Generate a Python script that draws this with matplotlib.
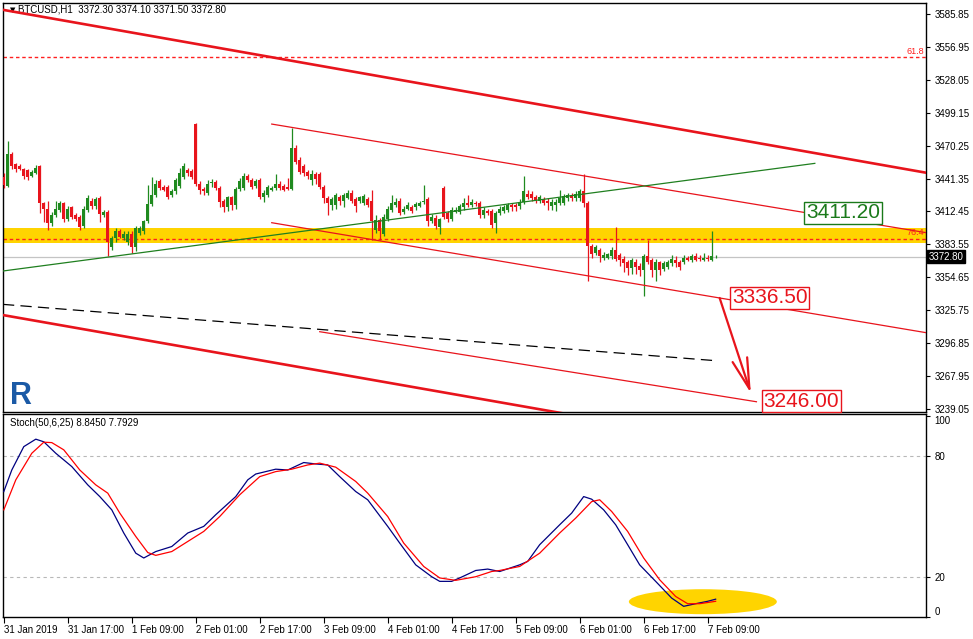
import numpy as np
import matplotlib
matplotlib.use("Agg")
import matplotlib.pyplot as plt
import matplotlib.transforms as mtransforms
from matplotlib.patches import Ellipse

plt.rcParams['font.family'] = ['Liberation Sans', 'DejaVu Sans']

# ------------------------------------------------------------
# BTCUSD H1 candles, 31 Jan 01:00 .. 7 Feb 11:00
# ------------------------------------------------------------
opens = [3443, 3435, 3463, 3454, 3452, 3450, 3449, 3444, 3446, 3452,
         3420, 3415, 3402, 3409, 3414, 3420, 3406, 3416, 3409, 3408,
         3400, 3414, 3422, 3417, 3424, 3409, 3412, 3381, 3389, 3395,
         3389, 3386, 3393, 3381, 3394, 3395, 3404, 3419, 3427, 3439,
         3434, 3434, 3427, 3430, 3435, 3443, 3449, 3448, 3489, 3437,
         3432, 3429, 3437.5, 3438, 3433, 3422, 3416, 3425, 3418, 3432,
         3433, 3444, 3440, 3435, 3440, 3425, 3427, 3431, 3433, 3437,
         3435, 3434, 3432, 3468, 3458, 3452, 3447, 3440, 3445, 3445,
         3434, 3424, 3418, 3418, 3425, 3422, 3424, 3429, 3423, 3422,
         3420, 3423, 3422, 3396, 3405, 3393, 3406, 3414, 3418, 3422,
         3412, 3415, 3416, 3416, 3417, 3421, 3423, 3404, 3407, 3399,
         3433, 3411, 3406, 3412, 3412, 3416, 3420, 3418, 3420, 3420,
         3409, 3413, 3413, 3402, 3411, 3413, 3414, 3418, 3418, 3417,
         3421, 3428, 3428, 3425, 3422, 3423, 3422, 3417, 3418, 3420,
         3420, 3424, 3427, 3424, 3424, 3430, 3420, 3382, 3376, 3379,
         3372, 3372, 3373, 3379, 3374, 3371, 3368, 3363, 3368, 3365,
         3361, 3373, 3370, 3361, 3368, 3362, 3364, 3367, 3370, 3368,
         3368, 3372, 3370, 3373, 3372, 3370, 3372, 3370, 3372.3]
highs = [3446, 3474, 3465, 3455, 3454, 3451, 3450, 3449, 3453, 3453,
         3421, 3422, 3412, 3422, 3422, 3421, 3417, 3417, 3411, 3409,
         3417, 3427, 3424, 3425, 3426, 3414, 3414, 3391, 3398, 3397,
         3395, 3395, 3395, 3400, 3400, 3405, 3436, 3443, 3440, 3441,
         3436, 3436, 3432, 3442, 3451, 3455, 3451, 3450, 3490, 3439,
         3434, 3440, 3441, 3440, 3435, 3423, 3426, 3426, 3434, 3442,
         3446, 3445, 3442, 3441, 3442, 3431, 3436, 3435, 3445, 3439,
         3437, 3442, 3486, 3471, 3460, 3454, 3449, 3449, 3447, 3447,
         3436, 3426, 3425, 3429, 3427, 3429, 3431, 3431, 3425, 3426,
         3428, 3425, 3431, 3409, 3407, 3410, 3417, 3427, 3424, 3424,
         3417, 3421, 3418, 3421, 3422, 3436, 3425, 3410, 3409, 3407,
         3435, 3413, 3416, 3416, 3419, 3424, 3427, 3423, 3422, 3422,
         3416, 3415, 3415, 3413, 3417, 3418, 3420, 3420, 3420, 3423,
         3444, 3431, 3430, 3427, 3427, 3425, 3424, 3423, 3423, 3431,
         3428, 3429, 3429, 3430, 3432, 3445, 3422, 3384, 3383, 3380,
         3377, 3376, 3381, 3399, 3376, 3373, 3370, 3372, 3371, 3367,
         3375, 3387, 3372, 3371, 3369, 3369, 3370, 3374, 3373, 3370,
         3374, 3373, 3375, 3376, 3374, 3376, 3374, 3395, 3374.1]
lows = [3433, 3434, 3450, 3447, 3449, 3441, 3440, 3443, 3445, 3411,
        3403, 3396, 3400, 3408, 3412, 3403, 3404, 3406, 3404, 3396,
        3398, 3412, 3415, 3415, 3403, 3408, 3373, 3379, 3386, 3389,
        3387, 3383, 3376, 3378, 3392, 3393, 3402, 3417, 3425, 3431,
        3430, 3423, 3425, 3428, 3433, 3441, 3444, 3441, 3435, 3428,
        3427, 3427, 3434, 3431, 3416, 3412, 3413, 3414, 3415, 3430,
        3431, 3438, 3432, 3433, 3423, 3421, 3425, 3430, 3431, 3431,
        3430, 3431, 3431, 3454, 3445, 3444, 3441, 3436, 3437, 3432,
        3420, 3409, 3414, 3415, 3418, 3416, 3423, 3420, 3412, 3420,
        3418, 3416, 3387, 3394, 3387, 3391, 3404, 3412, 3416, 3409,
        3410, 3414, 3411, 3414, 3416, 3419, 3400, 3402, 3397, 3393,
        3406, 3403, 3404, 3411, 3410, 3414, 3416, 3416, 3417, 3407,
        3407, 3409, 3398, 3394, 3409, 3411, 3412, 3413, 3413, 3415,
        3419, 3423, 3422, 3420, 3420, 3418, 3414, 3414, 3413, 3418,
        3418, 3422, 3422, 3422, 3422, 3416, 3351, 3372, 3374, 3368,
        3370, 3371, 3371, 3369, 3365, 3359, 3357, 3358, 3358, 3356,
        3338, 3366, 3355, 3351, 3357, 3360, 3362, 3365, 3364, 3361,
        3366, 3369, 3368, 3369, 3369, 3369, 3369, 3369, 3371.5]
closes = [3436, 3463, 3452, 3450, 3450, 3444, 3443, 3447, 3451, 3420,
          3415, 3402, 3409, 3415, 3420, 3406, 3415, 3408, 3406, 3399,
          3415, 3424, 3417, 3423, 3410, 3412, 3386, 3389, 3395, 3390,
          3393, 3393, 3381, 3398, 3398, 3404, 3419, 3427, 3437, 3433,
          3431, 3425, 3430, 3440, 3446, 3452, 3446, 3443, 3437, 3431,
          3430, 3437, 3437.7, 3433, 3421, 3416, 3425, 3418, 3432, 3439,
          3444, 3440, 3434, 3439, 3425, 3429, 3434, 3433, 3437, 3433,
          3431, 3432, 3468, 3456, 3447, 3446, 3444, 3445, 3441, 3434,
          3424, 3420, 3423, 3427, 3422, 3427, 3429, 3422, 3417, 3425,
          3426, 3418, 3404, 3405, 3395, 3408, 3415, 3420, 3421, 3411,
          3415, 3418, 3413, 3419, 3420, 3422, 3404, 3408, 3400, 3406,
          3408, 3406, 3414, 3414, 3417, 3420, 3418, 3421, 3419, 3409,
          3414, 3411, 3401, 3411, 3415, 3416, 3418, 3416, 3416, 3421,
          3430, 3425, 3424, 3422, 3425, 3420, 3420, 3421, 3421, 3424,
          3426, 3427, 3424, 3428, 3430, 3420, 3382, 3375, 3381, 3373,
          3374, 3375, 3379, 3371, 3370, 3367, 3363, 3370, 3364, 3361,
          3373, 3368, 3361, 3368, 3361, 3367, 3368, 3371, 3367, 3364,
          3372, 3370, 3373, 3370, 3370.5, 3372, 3370.5, 3373, 3372.8]

# Stochastic(50,6,25): sampled points (bar index, value)
stoch_k_bar = [0, 2, 5, 8, 10, 13, 17, 21, 24, 27, 30, 33, 35, 38, 42, 46, 50, 53,
               58, 61, 63, 68, 71, 75, 78, 81, 84, 88, 91, 96, 99, 103, 107, 109,
               112, 114, 118, 121, 124, 129, 131, 134, 139, 142, 145, 147, 150,
               153, 156, 159, 163, 167, 170, 173, 176, 178]
stoch_k = [62.3, 73, 84.6, 88.3, 87, 81.3, 74.7, 65.6, 59.8, 53.2, 41.7, 31.7, 29.3,
           32.5, 35, 41.7, 45, 50.8, 59.8, 68.1, 71, 73.4, 73, 76.7, 76, 75.5, 69.7,
           62.3, 58.2, 45, 36.7, 25.9, 20, 17.7, 17.7, 19.4, 23.1, 23.8, 22.6, 25.9,
           27.6, 35.9, 45.8, 51.6, 59.8, 58.5, 53.2, 45.8, 35.9, 25.9, 17.7, 9.4,
           5.3, 6.6, 7.8, 8.845]
stoch_d_bar = [0, 3, 7, 10, 12, 15, 19, 23, 26, 29, 33, 36, 38, 42, 46, 50, 54, 59,
               64, 68, 72, 76, 79, 83, 88, 91, 96, 100, 105, 109, 113, 118, 122,
               124, 129, 134, 139, 143, 147, 149, 152, 156, 160, 164, 168, 171,
               174, 178]
stoch_d = [53.2, 68.1, 81.3, 86.8, 86.6, 83, 73, 65.6, 61.5, 51.6, 40, 32, 30.6,
           32.5, 37.5, 42.5, 49.9, 60.7, 69.7, 72.2, 73.4, 75.5, 76.4, 74.4, 67.3,
           61.5, 49.9, 36.7, 25.1, 19.4, 18.2, 20, 22.6, 23.1, 25.1, 31.7, 41.7,
           49.1, 57.3, 58.2, 52.4, 42.5, 29.3, 18.5, 10.2, 6.6, 6.6, 7.7929]

# drawn objects: (bar, price) anchors
upper_thick = [(-0.2, 3589.5), (230.6, 3446.5)]
lower_thick = [(-0.2, 3321.5), (140.0, 3235.1)]
thin_upper = [(67.0, 3489.2), (230.7, 3393.8)]
thin_mid = [(67.0, 3402.6), (230.7, 3306.0)]
thin_low = [(79.0, 3306.9), (188.2, 3245.4)]
dashed_mid = [(-0.2, 3330.9), (178.2, 3281.4)]
green_line = [(-0.2, 3360.2), (202.8, 3454.7)]
arrow_from = (179.0, 3336.5)
arrow_to = (186.8, 3253.0)
target_labels = [("3411.20", 200.6, 3411.2, "#1a7a1a"),
                 ("3336.50", 182.1, 3336.5, "#e8141c"),
                 ("3246.00", 189.9, 3246.0, "#e8141c")]
zone_low, zone_high = 3385.0, 3398.0
fib_levels = [("61.8", 3548.0), ("76.4", 3388.7)]
last_price = 3372.80

price_ticks = [3239.05, 3267.95, 3296.85, 3325.75, 3354.65, 3383.55, 3412.45,
               3441.35, 3470.25, 3499.15, 3528.05, 3556.95, 3585.85]
date_ticks = [0, 16, 32, 48, 64, 80, 96, 112, 128, 144, 160, 176]
date_labels = ["31 Jan 2019", "31 Jan 17:00", "1 Feb 09:00", "2 Feb 01:00",
               "2 Feb 17:00", "3 Feb 09:00", "4 Feb 01:00", "4 Feb 17:00",
               "5 Feb 09:00", "6 Feb 01:00", "6 Feb 17:00", "7 Feb 09:00"]

# ------------------------------------------------------------
# figure
# ------------------------------------------------------------
W, H = 973, 639
RED = "#e8141c"
GREEN = "#1f8a1f"


def box(x0, y0, x1, y1):
    return [x0 / W, 1 - y1 / H, (x1 - x0) / W, (y1 - y0) / H]


fig = plt.figure(figsize=(W / 100, H / 100), dpi=100)
ax = fig.add_axes(box(3, 3, 926, 412))
ax2 = fig.add_axes(box(3, 414, 926, 617))

XLIM = (-0.2, 230.6)

# --- main price panel ---
o = np.array(opens)
h = np.array(highs)
l = np.array(lows)
c = np.array(closes)
bars = np.arange(len(o))
cols = np.where(c >= o, GREEN, RED)

ax.axhspan(zone_low, zone_high, color="#ffd400", lw=0, zorder=1)
ax.axhline(last_price, color="#c4c4c4", lw=0.9, zorder=1)
for name, lvl in fib_levels:
    ax.axhline(lvl, color="#ff2020", lw=1.0, ls=(0, (2.5, 2)), zorder=2)
    ax.text(XLIM[1] - 0.4, lvl + 1.0, name, color="#ff2020", fontsize=6.5,
            ha="right", va="bottom", zorder=3)

ax.vlines(bars, l, h, colors=cols, lw=0.9, zorder=4)
ax.bar(bars, np.maximum(np.abs(c - o), 0.5), bottom=np.minimum(o, c),
       width=0.72, color=cols, lw=0, zorder=5)


def seg(pts, **kw):
    xs, ys = zip(*pts)
    ax.plot(xs, ys, **kw)


seg(upper_thick, color=RED, lw=1.9, zorder=6)
seg(lower_thick, color=RED, lw=1.9, zorder=6)
seg(thin_upper, color=RED, lw=0.9, zorder=6)
seg(thin_mid, color=RED, lw=0.9, zorder=6)
seg(thin_low, color=RED, lw=0.9, zorder=6)
seg(dashed_mid, color="black", lw=0.9, ls=(0, (9, 5)), zorder=6)
seg(green_line, color="#1f7f1f", lw=0.9, zorder=6)

ax.annotate("", xy=arrow_to, xytext=arrow_from,
            arrowprops=dict(arrowstyle="->,head_length=2.2,head_width=0.55",
                            color=RED, lw=1.6, shrinkA=0, shrinkB=0), zorder=7)

for txt, bx, py, col in target_labels:
    ax.text(bx, py, txt, color=col, fontsize=15, ha="left", va="center",
            zorder=8,
            bbox=dict(boxstyle="square,pad=0.08", fc="white", ec=col, lw=1))

ax.text(7 / 923, 1 - 7 / 409, "\u25bc", transform=ax.transAxes, fontsize=5,
        ha="left", va="center", family=["DejaVu Sans"])
ax.text(15 / 923, 1 - 7 / 409, "BTCUSD,H1  3372.30 3374.10 3371.50 3372.80",
        transform=ax.transAxes, fontsize=7, ha="left", va="center")
ax.text(0.0195, 0.04, "R", transform=ax.transAxes, fontsize=22,
        fontweight="bold", color="#1b5aa6", ha="center", va="center")

ax.set_xlim(XLIM)
ax.set_ylim(3236.4, 3595.5)
ax.yaxis.tick_right()
ax.set_yticks(price_ticks, [f"{v:.2f}" for v in price_ticks])
ax.tick_params(axis="y", direction="out", length=3, width=0.8,
               labelsize=7, pad=3)
ax.tick_params(axis="x", bottom=False, labelbottom=False)

trans = mtransforms.blended_transform_factory(ax.transAxes, ax.transData)
ax.text(1.003, last_price, f"{last_price:.2f}", transform=trans, color="white",
        fontsize=7, ha="left", va="center", zorder=9,
        bbox=dict(boxstyle="square,pad=0.15", fc="black", ec="black"))

# --- stochastic panel ---
ax2.add_patch(Ellipse((174.8, 7.6), 37, 12.4, color="#ffd400", lw=0, zorder=1))
ax2.axhline(80, color="#b8b8b8", lw=0.8, ls=(0, (3, 3)), zorder=2)
ax2.axhline(20, color="#b8b8b8", lw=0.8, ls=(0, (3, 3)), zorder=2)
ax2.plot(stoch_k_bar, stoch_k, color="#000080", lw=0.9, zorder=3)
ax2.plot(stoch_d_bar, stoch_d, color="#ff0000", lw=0.9, zorder=3)
ax2.text(7 / 923, 1 - 9 / 203, "Stoch(50,6,25) 8.8450 7.7929",
         transform=ax2.transAxes, fontsize=7, ha="left", va="center")

ax2.set_xlim(XLIM)
ax2.set_ylim(0.2, 100.8)
ax2.yaxis.tick_right()
ax2.set_yticks([0, 20, 80, 100], ["0", "20", "80", "100"])
for t in ax2.get_yticklabels():
    if t.get_text() == "100":
        t.set_va("top")
    elif t.get_text() == "0":
        t.set_va("bottom")
ax2.tick_params(axis="y", direction="out", length=3, width=0.8,
                labelsize=7, pad=3)
ax2.set_xticks(date_ticks, date_labels)
for t in ax2.get_xticklabels():
    t.set_ha("left")
ax2.tick_params(axis="x", direction="out", length=4, width=0.8,
                labelsize=7, pad=2)

for a in (ax, ax2):
    for s in a.spines.values():
        s.set_color("black")
        s.set_linewidth(1)

fig.savefig("out.png", dpi=100)
